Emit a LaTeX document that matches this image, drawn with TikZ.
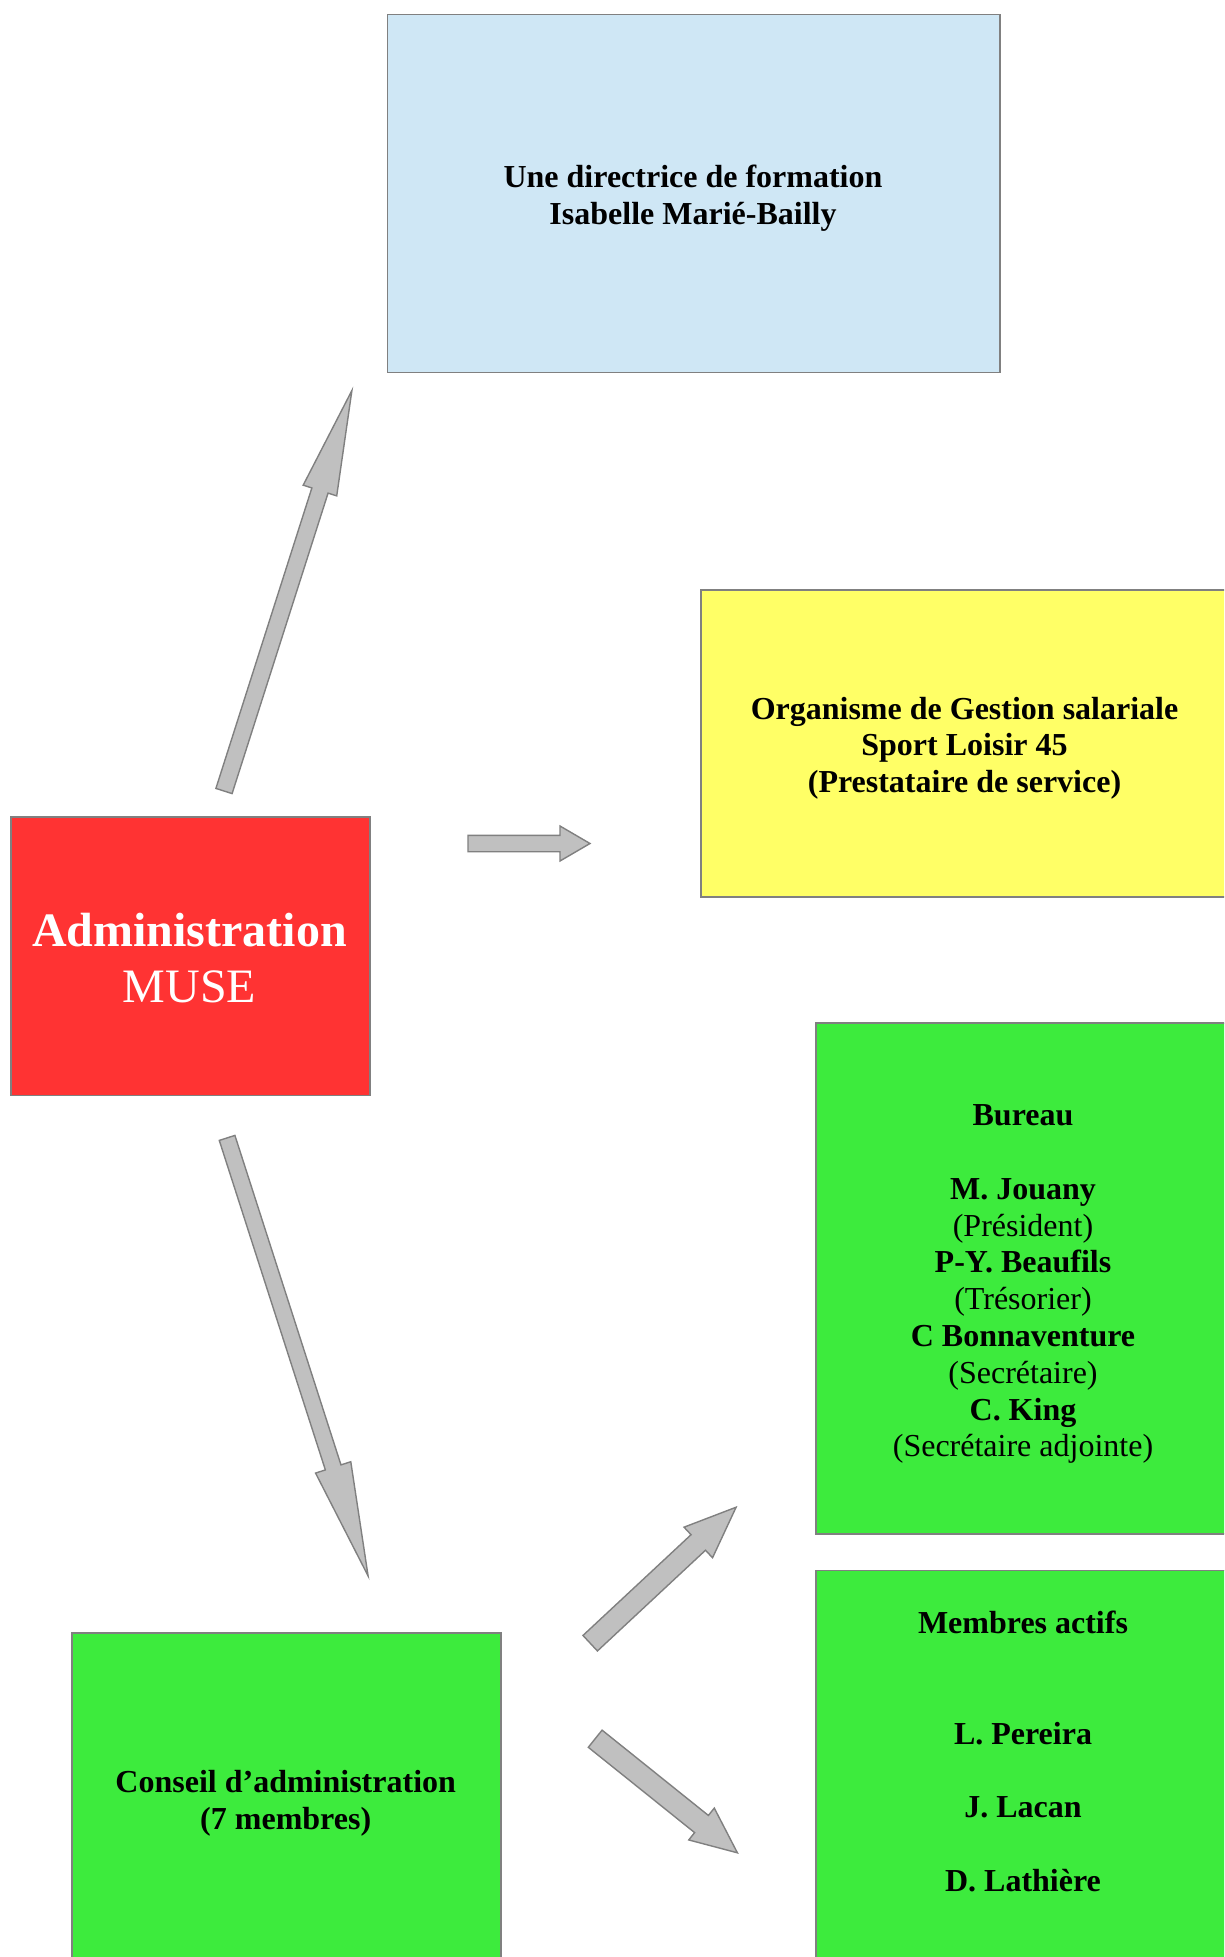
\documentclass[tikz,border=0pt]{standalone}
\usepackage{fontspec}
\setmainfont{Liberation Serif}
\usetikzlibrary{calc}
\definecolor{boxblue}{HTML}{CFE7F5}
\definecolor{boxyellow}{HTML}{FFFF66}
\definecolor{boxred}{HTML}{FF3333}
\definecolor{boxgreen}{HTML}{3DEB3D}
\definecolor{arrfill}{HTML}{C0C0C0}
\definecolor{edgegray}{HTML}{808080}
\tikzset{
  orgbox/.style={draw=edgegray, line width=1.6pt, anchor=north west, inner sep=0pt, align=center,
    font=\fontsize{32}{36.8}\selectfont},
  blockarrow/.style={draw=edgegray, fill=arrfill, line width=1.4pt, line join=miter},
  boxtext/.style={align=center, inner sep=0pt, font=\fontsize{32}{36.8}\selectfont}
}
% #1 tail, #2 tip, #3 half shaft width, #4 half head width, #5 head length
\newcommand{\blockarr}[5]{%
  \draw[blockarrow] ($(#1)!#3!90:(#2)$) -- ($(#2)!#5!(#1)!#3!-90:(#1)$)
    -- ($(#2)!#5!(#1)!#4!-90:(#1)$) -- (#2)
    -- ($(#2)!#5!(#1)!#4!90:(#1)$) -- ($(#2)!#5!(#1)!#3!90:(#1)$)
    -- ($(#1)!#3!-90:(#2)$) -- cycle;}
\begin{document}
\begin{tikzpicture}[x=1pt,y=-1pt]
\useasboundingbox (0,0) rectangle (1224,1957);
\clip (0,0) rectangle (1224,1957);
\fill[white] (0,0) rectangle (1224,1957);

% boxes
\node[orgbox, fill=boxblue, minimum width=612.6pt, minimum height=358.1pt] (dir) at (386.8,13.7) {};
\node[boxtext] (dirt) at (693,198.2) {\bfseries Une directrice de formation\\\bfseries Isabelle Marié-Bailly};

\node[orgbox, fill=boxyellow, minimum width=529pt, minimum height=307pt] (ogs) at (700,589) {};
\node[boxtext] (ogst) at (964.5,748.2) {\bfseries Organisme de Gestion salariale\\\bfseries Sport Loisir 45\\\bfseries (Prestataire de service)};

\node[orgbox, fill=boxred, minimum width=359.3pt, minimum height=278.5pt] (adm) at (10,816) {};
\node[boxtext, text=white, font=\fontsize{48}{56}\selectfont] (admt) at (189.6,958) {\bfseries Administration\\MUSE};

\node[orgbox, fill=boxgreen, minimum width=416pt, minimum height=511pt] (bur) at (815,1022) {};
\node[boxtext] (burt) at (1023,1284.2) {\textbf{Bureau}\\\mbox{}\\\textbf{M. Jouany}\\(Président)\\\textbf{P-Y. Beaufils}\\(Trésorier)\\\textbf{C Bonnaventure}\\(Secrétaire)\\\textbf{C. King}\\(Secrétaire adjointe)};

\node[orgbox, fill=boxgreen, minimum width=416pt, minimum height=420pt] (mem) at (815,1569.6) {};
\node[boxtext] (memt) at (1023,1751.5) {\textbf{Membres actifs}\\\mbox{}\\\mbox{}\\\textbf{L. Pereira}\\\mbox{}\\\textbf{J. Lacan}\\\mbox{}\\\textbf{D. Lathière}};

\node[orgbox, fill=boxgreen, minimum width=429.3pt, minimum height=340pt] (cons) at (71,1632) {};
\node[boxtext] (const) at (285.7,1803.2) {\bfseries Conseil d’administration\\\bfseries (7 membres)};

% arrow end points
\coordinate (a1s) at (224,791);     \coordinate (a1e) at (351.9,390.5);
\coordinate (a2s) at (468,843.5);   \coordinate (a2e) at (590,843.5);
\coordinate (a3s) at (227.1,1137.9);\coordinate (a3e) at (368.1,1575.9);
\coordinate (a4s) at (590.2,1643.2);\coordinate (a4e) at (736.1,1507.2);
\coordinate (a5s) at (595.2,1738.7);\coordinate (a5e) at (737.4,1852.8);

\blockarr{a1s}{a1e}{8.5pt}{17.6pt}{105pt}
\blockarr{a2s}{a2e}{8.2pt}{17.5pt}{30pt}
\blockarr{a3s}{a3e}{8.2pt}{18.5pt}{114pt}
\blockarr{a4s}{a4e}{10.6pt}{20.9pt}{51.7pt}
\blockarr{a5s}{a5e}{11pt}{20.4pt}{46pt}
\end{tikzpicture}
\end{document}
